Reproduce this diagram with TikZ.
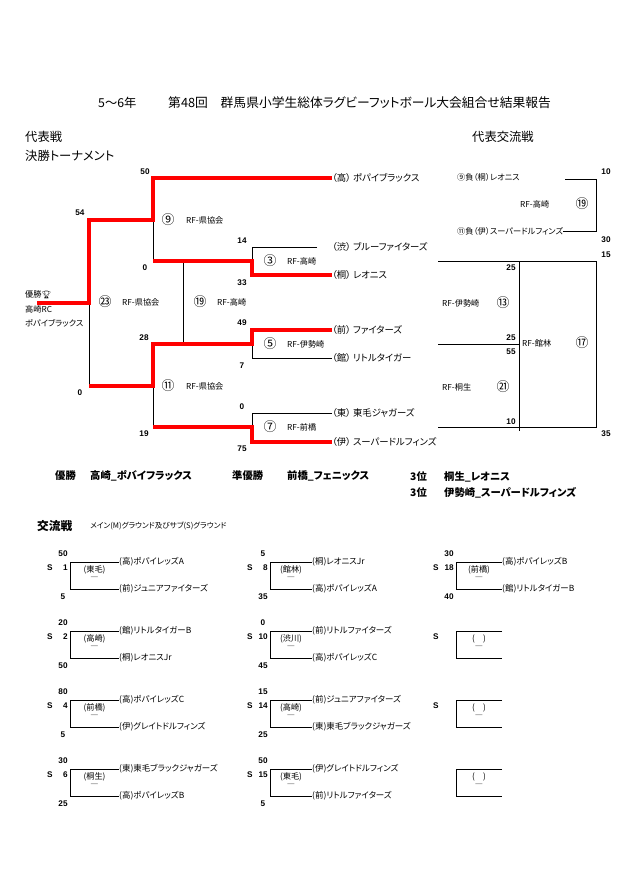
\documentclass[tikz,border=0pt]{standalone}
\usepackage{fontspec}
\setmainfont{Noto Sans CJK JP}[RawFeature=+palt]
\newfontfamily\numfont{Liberation Sans}
\newfontfamily\emojifont{Noto Emoji}
\newcommand\sz[1]{\fontsize{#1}{#1}\selectfont}
% one match of the exchange games; column set by \colL and \colR
\newcommand\colL{70}
\newcommand\colR{119}
\newcommand\xmatch[9]{%
  \node[xnum, anchor=west] (#9s) at (\colL-23,#1+6) {#2};
  \node[xnum, anchor=east] (#9n) at (\colL-2,#1+6) {#3};
  \node[xlab] (#9v) at ({(\colL+\colR)/2},#1+8) {#4};
  \node[xlab] (#9d) at ({(\colL+\colR)/2},#1+17) {―};
  \node[score] (#9a) at (\colL-7,#1-8) {#5};
  \node[xteam] (#9ta) at (\colR,#1) {#6};
  \node[score] (#9b) at (\colL-7,#1+35) {#7};
  \node[xteam] (#9tb) at (\colR,#1+27) {#8};
  \draw[lose] (#9ta.west) -- (\colL,#1) -- (\colL,#1+27) -- (#9tb.west);
}

\begin{document}
\begin{tikzpicture}[x=0.3mm, y=-0.3mm,
  win/.style={red, line width=3.2pt},
  lose/.style={line width=0.8pt},
  team/.style={anchor=west, inner sep=0pt, font=\sz{8}},
  score/.style={inner sep=0pt, font=\numfont\bfseries\sz{7}},
  rf/.style={anchor=west, inner sep=0pt, font=\sz{7}},
  circ/.style={inner sep=0pt, font=\sz{11}},
  head/.style={anchor=west, inner sep=0pt, font=\sz{10.5}},
  res/.style={anchor=west, inner sep=0pt, font=\bfseries\sz{8.8}},
  xteam/.style={anchor=west, inner sep=0pt, font=\sz{7.2}},
  xlab/.style={inner sep=0pt, font=\sz{7}},
  xnum/.style={inner sep=0pt, font=\numfont\bfseries\sz{7}}
]
\useasboundingbox (0,0) rectangle (638,882);

% Headings
\node[head] (grade) at (98,103) {5～6年};
\node[head, font=\sz{10.9}] (title) at (168,103) {第48回\quad 群馬県小学生総体ラグビーフットボール大会組合せ結果報告};
\node[head] (rep) at (25,137) {代表戦};
\node[head] (final) at (25,156) {決勝トーナメント};
\node[head] (repx) at (472,137) {代表交流戦};

% Teams of the tournament
\node[team] (t1) at (332,178) {（高） ポパイブラックス};
\node[team] (t2) at (332,247) {（渋） ブルーファイターズ};
\node[team] (t3) at (332,275) {（桐） レオニス};
\node[team] (t4) at (332,330) {（前） ファイターズ};
\node[team] (t5) at (332,358) {（館） リトルタイガー};
\node[team] (t6) at (332,413) {（東） 東毛ジャガーズ};
\node[team] (t7) at (332,442) {（伊） スーパードルフィンズ};
\coordinate (t2e) at (317,247);

% Champion
\node[rf] (champ) at (25,295) {優勝{\emojifont\sz{6.5}🏆}};
\node[rf] (champa) at (25,309) {高崎RC};
\node[rf] (champb) at (25,323) {ポパイブラックス};
\coordinate (cup) at (37,303);

% Lost branches
\draw[lose] (153,220) -- (153,261);
\draw[lose] (183,261) -- (183,344);
\draw[lose] (89,303) -- (89,386);
\draw[lose] (153,386) -- (153,427);
\draw[lose] (t2e) -- (252,247) -- (252,261);
\draw[lose] (252,344) -- (252,358) -- (t5.west);
\draw[lose] (t6.west) -- (252,413) -- (252,427);

% Winning branches
\draw[win] (cup) -- (89,303) -- (89,220) -- (153,220) -- (153,178) -- (t1.west);
\draw[win] (t3.west) -- (252,275) -- (252,261) -- (153,261);
\draw[win] (t4.west) -- (252,330) -- (252,344) -- (153,344) -- (153,386) -- (89,386);
\draw[win] (t7.west) -- (252,442) -- (252,427) -- (153,427);

% Scores
\node[score] (s1) at (145,172) {50};
\node[score] (s2) at (80,213) {54};
\node[score] (s3) at (145,268) {0};
\node[score] (s4) at (242,241) {14};
\node[score] (s5) at (242,283) {33};
\node[score] (s6) at (144,338) {28};
\node[score] (s7) at (80,393) {0};
\node[score] (s8) at (242,323) {49};
\node[score] (s9) at (242,366) {7};
\node[score] (s10) at (242,407) {0};
\node[score] (s11) at (144,434) {19};
\node[score] (s12) at (242,449) {75};

% Match numbers and grounds
\node[circ] (m9) at (168,220) {⑨};
\node[rf] (g9) at (186,220) {RF-県協会};
\node[circ] (m23) at (105,302) {㉓};
\node[rf] (g23) at (122,302) {RF-県協会};
\node[circ] (m19) at (200,302) {⑲};
\node[rf] (g19) at (217,302) {RF-高崎};
\node[circ] (m11) at (168,386) {⑪};
\node[rf] (g11) at (186,386) {RF-県協会};
\node[circ] (m3) at (270,261) {③};
\node[rf] (g3) at (287,261) {RF-高崎};
\node[circ] (m5) at (270,344) {⑤};
\node[rf] (g5) at (287,344) {RF-伊勢崎};
\node[circ] (m7) at (270,427) {⑦};
\node[rf] (g7) at (287,427) {RF-前橋};

% Representative exchange games
\node[rf] (r1) at (457,177) {⑨負（桐）レオニス};
\node[rf] (r2) at (457,231) {⑪負（伊）スーパードルフィンズ};
\coordinate (r1e) at (565,179);
\draw[lose] (r1e) -- (596,179) -- (596,231) -- (r2.east);
\node[rf] (gx19) at (520,204) {RF-高崎};
\node[circ] (mx19) at (582,204) {⑲};
\node[score] (x1) at (606,172) {10};
\node[score] (x2) at (606,240) {30};

\draw[lose] (438,261) -- (596,261) -- (596,427) -- (438,427);
\draw[lose] (519,261) -- (519,431);
\draw[lose] (438,344) -- (519,344);
\node[rf] (gx13) at (442,303) {RF-伊勢崎};
\node[circ] (mx13) at (503,303) {⑬};
\node[rf] (gx21) at (442,387) {RF-桐生};
\node[circ] (mx21) at (503,387) {㉑};
\node[rf] (gx17) at (522,343) {RF-館林};
\node[circ] (mx17) at (582,343) {⑰};
\node[score] (x3) at (606,255) {15};
\node[score] (x4) at (606,434) {35};
\node[score] (x5) at (511,268) {25};
\node[score] (x6) at (511,338) {25};
\node[score] (x7) at (511,352) {55};
\node[score] (x8) at (511,422) {10};

% Final standings
\node[res] (w1) at (55,476) {優勝};
\node[res] (w1n) at (90,476) {高崎\_ポバイフラックス};
\node[res] (w2) at (232,476) {準優勝};
\node[res] (w2n) at (287,476) {前橋\_フェニックス};
\node[res] (w3) at (410,477) {3位};
\node[res] (w3n) at (444,477) {桐生\_レオニス};
\node[res] (w4) at (410,493) {3位};
\node[res] (w4n) at (444,493) {伊勢崎\_スーパードルフィンズ};

% Exchange games
\node[head, font=\bfseries\sz{10}] (xg) at (37,526) {交流戦};
\node[rf, font=\sz{6.5}] (xgn) at (90,526) {メイン(M)グラウンド及びサブ(S)グラウンド};

\renewcommand\colL{70}\renewcommand\colR{119}
\xmatch{562}{S}{1}{(東毛)}{50}{(高)ポパイレッズA}{5}{(前)ジュニアファイターズ}{a1}
\xmatch{631}{S}{2}{(高崎)}{20}{(館)リトルタイガーB}{50}{(桐)レオニスJr}{a2}
\xmatch{700}{S}{4}{(前橋)}{80}{(高)ポパイレッズC}{5}{(伊)グレイトドルフィンズ}{a4}
\xmatch{769}{S}{6}{(桐生)}{30}{(東)東毛ブラックジャガーズ}{25}{(高)ポパイレッズB}{a6}

\renewcommand\colL{270}\renewcommand\colR{312}
\xmatch{562}{S}{8}{(館林)}{5}{(桐)レオニスJr}{35}{(高)ポパイレッズA}{b8}
\xmatch{631}{S}{10}{(渋川)}{0}{(前)リトルファイターズ}{45}{(高)ポパイレッズC}{b10}
\xmatch{700}{S}{14}{(高崎)}{15}{(前)ジュニアファイターズ}{25}{(東)東毛ブラックジャガーズ}{b14}
\xmatch{769}{S}{15}{(東毛)}{50}{(伊)グレイトドルフィンズ}{5}{(前)リトルファイターズ}{b15}

\renewcommand\colL{456}\renewcommand\colR{502}
\xmatch{562}{S}{18}{(前橋)}{30}{(高)ポパイレッズB}{40}{(館)リトルタイガーB}{c18}
\xmatch{631}{S}{}{(\quad)}{}{}{}{}{c2}
\xmatch{700}{S}{}{(\quad)}{}{}{}{}{c3}
\xmatch{769}{}{}{(\quad)}{}{}{}{}{c4}
\end{tikzpicture}
\end{document}
